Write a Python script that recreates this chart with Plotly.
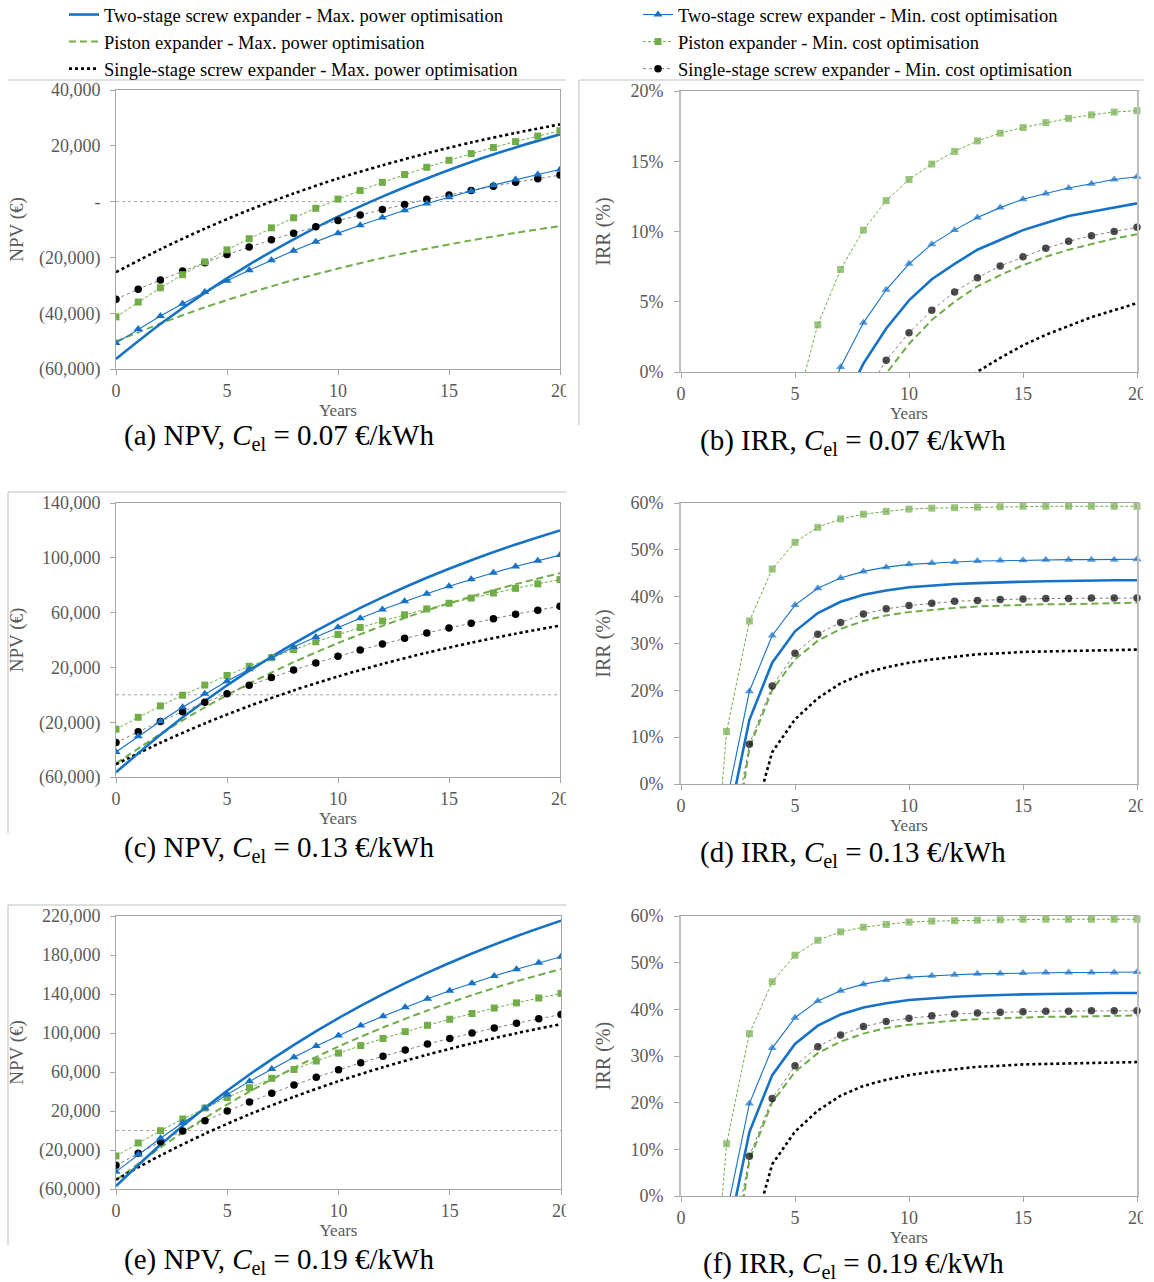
import plotly.graph_objects as go

# ---------------- data ----------------
YEARS = list(range(21))
YEARS_EVEN = list(range(0, 21, 2))

# (a) NPV, Cel = 0.07 EUR/kWh
A_TWO_MP = [-56400, -43900, -32700, -22600, -13500, -5400, 1800, 8300, 14200, 19400, 24100]
A_PIST_MP = [-50100, -43700, -37900, -32800, -28100, -24000, -20200, -16900, -13900, -11200, -8800]
A_SING_MP = [-25300, -17100, -9700, -3000, 2900, 8300, 13000, 17300, 21200, 24600, 27700]
A_TWO_MC = [-50700, -45700, -41000, -36600, -32400, -28400, -24600, -21000, -17600, -14400, -11300,
            -8500, -5700, -3100, -700, 1600, 3800, 5900, 7900, 9700, 11500]
A_PIST_MC = [-41300, -36000, -30900, -26200, -21600, -17300, -13300, -9400, -5800, -2400, 900,
             4000, 6900, 9700, 12300, 14800, 17200, 19400, 21500, 23500, 25400]
A_SING_MC = [-35000, -31400, -28100, -24900, -21900, -19000, -16300, -13700, -11300, -9000, -6800,
             -4800, -2800, -1000, 800, 2400, 4000, 5500, 6900, 8200, 9500]

# (c) NPV, Cel = 0.13 EUR/kWh
C_TWO_MP = [-56600, -29100, -4500, 17600, 37400, 55200, 71100, 85400, 98200, 109700, 120000]
C_PIST_MP = [-50200, -28600, -9200, 8200, 23800, 37800, 50300, 61600, 71600, 80700, 88800]
C_SING_MP = [-50700, -35000, -20900, -8200, 3200, 13400, 22500, 30700, 38000, 44600, 50500]
C_TWO_MC = [-41700, -30200, -19300, -9100, 700, 9900, 18700, 27000, 34800, 42200, 49300,
            55900, 62200, 68200, 73800, 79200, 84300, 89100, 93600, 97900, 102000]
C_PIST_MC = [-25100, -16400, -8100, -300, 7100, 14100, 20800, 27100, 33000, 38700, 44000,
             49100, 53900, 58400, 62700, 66800, 70600, 74300, 77700, 81000, 84100]
C_SING_MC = [-34900, -27000, -19400, -12300, -5500, 800, 6900, 12600, 18100, 23200, 28100,
             32700, 37000, 41200, 45100, 48800, 52300, 55600, 58800, 61800, 64600]

# (e) NPV, Cel = 0.19 EUR/kWh
E_TWO_MP = [-56900, -14600, 23400, 57400, 87900, 115300, 139900, 161900, 181600, 199300, 215200]
E_PIST_MP = [-51100, -17400, 12800, 39900, 64300, 86100, 105600, 123100, 138800, 153000, 165600]
E_SING_MP = [-50400, -25600, -3300, 16600, 34500, 50600, 64900, 77800, 89400, 99800, 109100]
E_TWO_MC = [-42200, -24600, -7900, 7900, 22800, 37000, 50400, 63100, 75200, 86600, 97400,
            107600, 117200, 126400, 135100, 143300, 151100, 158500, 165400, 172100, 178300]
E_PIST_MC = [-26100, -12800, -200, 11800, 23100, 33800, 43900, 53500, 62600, 71300, 79400,
             87100, 94400, 101400, 107900, 114100, 120000, 125600, 130900, 135900, 140600]
E_SING_MC = [-35700, -23300, -11600, -600, 9900, 19900, 29300, 38200, 46600, 54600, 62200,
             69400, 76200, 82600, 88700, 94400, 99900, 105100, 110000, 114600, 119000]

# (b) IRR (%), Cel = 0.07 EUR/kWh
B_TWO_MP = [None, None, None, None, None, None, None, -2.7, 0.6, 3.1, 5.1,
            6.6, 7.7, 8.7, 9.4, 10.1, 10.6, 11.1, 11.4, 11.7, 12.0]
B_PIST_MP = [None, None, None, None, None, None, None, None, -2.5, -0.1, 2.0,
             3.7, 5.0, 6.1, 6.9, 7.6, 8.2, 8.7, 9.1, 9.5, 9.8]
B_SING_MP = [None, None, None, None, None, None, None, None, None, None, None,
             None, -1.2, 0.02, 1.0, 1.9, 2.65, 3.3, 3.9, 4.4, 4.9]
B_TWO_MC = [None, None, None, None, None, None, -4.0, 0.36, 3.5, 5.85, 7.7,
            9.1, 10.1, 11.0, 11.7, 12.3, 12.7, 13.1, 13.4, 13.7, 13.9]
B_PIST_MC = [None, None, None, None, None, -2.75, 3.36, 7.3, 10.1, 12.2, 13.7,
             14.8, 15.7, 16.45, 17.0, 17.4, 17.75, 18.05, 18.3, 18.5, 18.6]
B_SING_MC = [None, None, None, None, None, None, None, None, -1.9, 0.83, 2.8,
             4.4, 5.7, 6.7, 7.55, 8.2, 8.8, 9.3, 9.7, 10.0, 10.3]

# (d) IRR (%), Cel = 0.13 EUR/kWh
D_TWO_MP = [None, None, -9.9, 13.7, 25.9, 32.6, 36.5, 38.9, 40.4, 41.3, 42.0,
            42.4, 42.7, 42.9, 43.1, 43.2, 43.3, 43.4, 43.4, 43.5, 43.5]
D_PIST_MP = [None, None, -24.4, 7.7, 20.1, 26.6, 30.6, 33.1, 34.8, 36.0, 36.7,
             37.2, 37.6, 37.9, 38.1, 38.2, 38.4, 38.4, 38.5, 38.6, 38.7]
D_SING_MP = [None, None, None, -10.6, 6.8, 13.8, 18.3, 21.5, 23.6, 24.9, 25.9,
             26.6, 27.2, 27.7, 27.9, 28.2, 28.3, 28.4, 28.6, 28.7, 28.7]
D_TWO_MC = [None, None, -3.8, 19.8, 31.7, 38.2, 41.8, 44.0, 45.4, 46.3, 46.9,
            47.2, 47.4, 47.6, 47.7, 47.8, 47.9, 47.9, 47.9, 47.9, 48.0]
D_PIST_MC = [None, -48.0, 11.2, 34.8, 45.9, 51.6, 54.8, 56.6, 57.6, 58.2, 58.7,
             58.9, 59.0, 59.1, 59.2, 59.3, 59.3, 59.3, 59.3, 59.3, 59.3]
D_SING_MC = [None, None, -18.1, 8.5, 20.9, 27.9, 32.0, 34.5, 36.3, 37.4, 38.1,
             38.6, 39.0, 39.2, 39.4, 39.5, 39.6, 39.6, 39.7, 39.7, 39.7]

# (f) IRR (%), Cel = 0.19 EUR/kWh
F_TWO_MP = [None, None, -9.9, 13.7, 25.9, 32.6, 36.5, 38.9, 40.4, 41.3, 42.0,
            42.4, 42.7, 42.9, 43.1, 43.2, 43.3, 43.4, 43.4, 43.5, 43.5]
F_PIST_MP = [None, None, -24.4, 7.7, 20.1, 26.6, 30.6, 33.1, 34.8, 36.0, 36.7,
             37.2, 37.6, 37.9, 38.1, 38.2, 38.4, 38.4, 38.5, 38.6, 38.7]
F_SING_MP = [None, None, None, -10.6, 6.8, 13.8, 18.3, 21.5, 23.6, 24.9, 25.9,
             26.6, 27.2, 27.7, 27.9, 28.2, 28.3, 28.4, 28.6, 28.7, 28.7]
F_TWO_MC = [None, None, -3.8, 19.8, 31.7, 38.2, 41.8, 44.0, 45.4, 46.3, 46.9,
            47.2, 47.4, 47.6, 47.7, 47.8, 47.9, 47.9, 47.9, 47.9, 48.0]
F_PIST_MC = [None, -48.0, 11.2, 34.8, 45.9, 51.6, 54.8, 56.6, 57.6, 58.2, 58.7,
             58.9, 59.0, 59.1, 59.2, 59.3, 59.3, 59.3, 59.3, 59.3, 59.3]
F_SING_MC = [None, None, -18.1, 8.5, 20.9, 27.9, 32.0, 34.5, 36.3, 37.4, 38.1,
             38.6, 39.0, 39.2, 39.4, 39.5, 39.6, 39.6, 39.7, 39.7, 39.7]

SERIES_NAMES = {
    "two_mp": "Two-stage screw expander - Max. power optimisation",
    "pist_mp": "Piston expander - Max. power optimisation",
    "sing_mp": "Single-stage screw expander - Max. power optimisation",
    "two_mc": "Two-stage screw expander - Min. cost optimisation",
    "pist_mc": "Piston expander - Min. cost optimisation",
    "sing_mc": "Single-stage screw expander - Min. cost optimisation",
}

NPV_A_TICKS = [-60000, -40000, -20000, 0, 20000, 40000]
NPV_A_LABELS = ["(60,000)", "(40,000)", "(20,000)", "-", "20,000", "40,000"]
NPV_C_TICKS = [-60000, -20000, 20000, 60000, 100000, 140000]
NPV_C_LABELS = ["(60,000)", "(20,000)", "20,000", "60,000", "100,000", "140,000"]
NPV_E_TICKS = [-60000, -20000, 20000, 60000, 100000, 140000, 180000, 220000]
NPV_E_LABELS = ["(60,000)", "(20,000)", "20,000", "60,000", "100,000", "140,000", "180,000", "220,000"]
IRR_B_TICKS = [0, 5, 10, 15, 20]
IRR_B_LABELS = ["0%", "5%", "10%", "15%", "20%"]
IRR_DF_TICKS = [0, 10, 20, 30, 40, 50, 60]
IRR_DF_LABELS = ["0%", "10%", "20%", "30%", "40%", "50%", "60%"]
YEAR_TICKS = [0, 5, 10, 15, 20]

CAPTIONS = [
    "(a) NPV, <i>C</i><sub>el</sub> = 0.07 €/kWh",
    "(b) IRR, <i>C</i><sub>el</sub> = 0.07 €/kWh",
    "(c) NPV, <i>C</i><sub>el</sub> = 0.13 €/kWh",
    "(d) IRR, <i>C</i><sub>el</sub> = 0.13 €/kWh",
    "(e) NPV, <i>C</i><sub>el</sub> = 0.19 €/kWh",
    "(f) IRR, <i>C</i><sub>el</sub> = 0.19 €/kWh",
]

# ---------------- styling ----------------
W, H = 1154, 1282
FONT = "Liberation Serif, Times New Roman, serif"
BLUE = "#1572C6"
GREEN = "#70AD47"
BLACK = "#000000"
TICK_GRAY = "#595959"
AXIS_GRAY = "#A6A6A6"


def X(p):
    return p / W


def Y(p):
    return 1 - p / H


STYLE = {
    "two_mp": dict(mode="lines", line=dict(color=BLUE, width=2.6), legend="legend"),
    "pist_mp": dict(mode="lines", line=dict(color=GREEN, width=2, dash="7px,4px"), legend="legend"),
    "sing_mp": dict(mode="lines", line=dict(color=BLACK, width=2.6, dash="dot"), legend="legend"),
    "two_mc": dict(mode="lines+markers", line=dict(color=BLUE, width=1.1),
                   marker=dict(symbol="triangle-up", color=BLUE), legend="legend2"),
    "pist_mc": dict(mode="lines+markers", line=dict(color=GREEN, width=1, dash="3px,2px"),
                    marker=dict(symbol="square", color=GREEN), legend="legend2"),
    "sing_mc": dict(mode="lines+markers", line=dict(color="#7F7F7F", width=1, dash="dot"),
                    marker=dict(symbol="circle", color=BLACK), legend="legend2"),
}
MSIZE = {"two_mc": 8, "pist_mc": 7, "sing_mc": 7.5}

# panel domains in pixels: (left, right, top, bottom)
DOMAINS = [
    (116, 560, 90, 369),
    (681, 1137, 91, 372),
    (116, 560, 503, 777),
    (681, 1137, 503, 784),
    (116, 561, 916, 1189),
    (681, 1137, 916, 1196),
]

PANEL_DATA = [
    dict(two_mp=(YEARS_EVEN, A_TWO_MP), pist_mp=(YEARS_EVEN, A_PIST_MP), sing_mp=(YEARS_EVEN, A_SING_MP),
         two_mc=(YEARS, A_TWO_MC), pist_mc=(YEARS, A_PIST_MC), sing_mc=(YEARS, A_SING_MC)),
    dict(two_mp=(YEARS, B_TWO_MP), pist_mp=(YEARS, B_PIST_MP), sing_mp=(YEARS, B_SING_MP),
         two_mc=(YEARS, B_TWO_MC), pist_mc=(YEARS, B_PIST_MC), sing_mc=(YEARS, B_SING_MC)),
    dict(two_mp=(YEARS_EVEN, C_TWO_MP), pist_mp=(YEARS_EVEN, C_PIST_MP), sing_mp=(YEARS_EVEN, C_SING_MP),
         two_mc=(YEARS, C_TWO_MC), pist_mc=(YEARS, C_PIST_MC), sing_mc=(YEARS, C_SING_MC)),
    dict(two_mp=(YEARS, D_TWO_MP), pist_mp=(YEARS, D_PIST_MP), sing_mp=(YEARS, D_SING_MP),
         two_mc=(YEARS, D_TWO_MC), pist_mc=(YEARS, D_PIST_MC), sing_mc=(YEARS, D_SING_MC)),
    dict(two_mp=(YEARS_EVEN, E_TWO_MP), pist_mp=(YEARS_EVEN, E_PIST_MP), sing_mp=(YEARS_EVEN, E_SING_MP),
         two_mc=(YEARS, E_TWO_MC), pist_mc=(YEARS, E_PIST_MC), sing_mc=(YEARS, E_SING_MC)),
    dict(two_mp=(YEARS, F_TWO_MP), pist_mp=(YEARS, F_PIST_MP), sing_mp=(YEARS, F_SING_MP),
         two_mc=(YEARS, F_TWO_MC), pist_mc=(YEARS, F_PIST_MC), sing_mc=(YEARS, F_SING_MC)),
]
IS_NPV = [True, False, True, False, True, False]

fig = go.Figure()

DRAW_ORDER = ["pist_mp", "sing_mp", "two_mp", "sing_mc", "pist_mc", "two_mc"]
LEGEND_ORDER = ["two_mp", "pist_mp", "sing_mp", "two_mc", "pist_mc", "sing_mc"]

for i, pdata in enumerate(PANEL_DATA):
    n = i + 1
    xa = "x" if n == 1 else f"x{n}"
    ya = "y" if n == 1 else f"y{n}"
    for key in DRAW_ORDER:
        xs, ys = pdata[key]
        st = STYLE[key]
        kw = dict(x=xs, y=ys, name=SERIES_NAMES[key], mode=st["mode"], line=dict(st["line"]),
                  xaxis=xa, yaxis=ya, legend=st["legend"], legendgroup=key,
                  showlegend=(n == 1), legendrank=LEGEND_ORDER.index(key) + 1,
                  hoverinfo="skip", connectgaps=False)
        if IS_NPV[i] and key.endswith("_mp"):
            kw["line"]["shape"] = "spline"
            kw["line"]["smoothing"] = 0.8
        if "marker" in st:
            if IS_NPV[i]:
                kw["marker"] = dict(st["marker"], size=MSIZE[key], line=dict(width=0))
            else:
                # IRR points below 0 % are outside the chart: hide their markers
                sizes = [0 if (v is None or v < 0) else MSIZE[key] for v in ys]
                kw["marker"] = dict(st["marker"], size=sizes, line=dict(width=0))
                kw["cliponaxis"] = False
        fig.add_trace(go.Scatter(**kw))

axis_common = dict(showgrid=False, zeroline=False, showline=True, linecolor=AXIS_GRAY, linewidth=1,
                   mirror=True, ticks="outside", ticklen=5, tickcolor=AXIS_GRAY,
                   tickfont=dict(family=FONT, size=18, color=TICK_GRAY), fixedrange=True,
                   automargin=False)

layout = dict(
    width=W, height=H, margin=dict(l=0, r=0, t=0, b=0, pad=0, autoexpand=False),
    paper_bgcolor="white", plot_bgcolor="white",
    font=dict(family=FONT, color=BLACK),
    showlegend=True,
)

yranges = [(-60000, 40000), (0, 20), (-60000, 140000), (0, 60), (-60000, 220000), (0, 60)]
yticks = [(NPV_A_TICKS, NPV_A_LABELS, True), (IRR_B_TICKS, IRR_B_LABELS, False),
          (NPV_C_TICKS, NPV_C_LABELS, True), (IRR_DF_TICKS, IRR_DF_LABELS, False),
          (NPV_E_TICKS, NPV_E_LABELS, True), (IRR_DF_TICKS, IRR_DF_LABELS, False)]

for i, (l, r, t, b) in enumerate(DOMAINS):
    n = i + 1
    xk = "xaxis" if n == 1 else f"xaxis{n}"
    yk = "yaxis" if n == 1 else f"yaxis{n}"
    ya = "y" if n == 1 else f"y{n}"
    xa = "x" if n == 1 else f"x{n}"
    layout[xk] = dict(axis_common, domain=[X(l), X(r)], anchor=ya, range=[0, 20],
                      tickmode="array", tickvals=YEAR_TICKS, ticklabelstandoff=0,
                      title=dict(text="Years", font=dict(family=FONT, size=17, color=TICK_GRAY), standoff=0))
    tv, tt, npv = yticks[i]
    yd = dict(axis_common, domain=[Y(b), Y(t)], anchor=xa, range=list(yranges[i]),
              tickmode="array", tickvals=tv, ticktext=tt, ticklabelstandoff=6)
    if npv:
        yd["title"] = dict(text="NPV (€)", font=dict(family=FONT, size=19, color=TICK_GRAY), standoff=10)
    else:
        yd["ticklabelstandoff"] = 7
        yd["title"] = dict(text="IRR (%)", font=dict(family=FONT, size=20, color=TICK_GRAY), standoff=14)
        yd["linecolor"] = "#BFBFBF"
        yd["linewidth"] = 2
    layout[yk] = yd

fig.update_layout(**layout)

# legends (two columns)
fig.update_layout(
    legend=dict(x=X(64), y=Y(-4), xanchor="left", yanchor="top", bgcolor="rgba(0,0,0,0)",
                font=dict(family=FONT, size=18.5, color=BLACK), tracegroupgap=1, itemwidth=30,
                traceorder="normal"),
    legend2=dict(x=X(638), y=Y(-4), xanchor="left", yanchor="top", bgcolor="rgba(0,0,0,0)",
                 font=dict(family=FONT, size=18.5, color=BLACK), tracegroupgap=1, itemwidth=30,
                 traceorder="normal"),
)

shapes = []
# zero reference lines in NPV panels
for n in (1, 3, 5):
    xa = "x" if n == 1 else f"x{n}"
    ya = "y" if n == 1 else f"y{n}"
    shapes.append(dict(type="line", xref=xa, yref=ya, x0=0, x1=20, y0=0, y1=0,
                       line=dict(color="#A6A6A6", width=1, dash="dot"), layer="below"))

# clip the right-most tick labels like the cropped original
shapes.append(dict(type="rect", xref="paper", yref="paper", x0=X(566), x1=X(578.5), y0=0, y1=1,
                   fillcolor="white", line=dict(width=0), layer="above"))
shapes.append(dict(type="rect", xref="paper", yref="paper", x0=X(1143), x1=1, y0=0, y1=1,
                   fillcolor="white", line=dict(width=0), layer="above"))

# chart-area frame fragments
FRAME = "#BFBFBF"
for (x0, y0, x1, y1) in [(8, 80, 566, 80), (580, 80, 1144, 80), (579, 80, 579, 425),
                         (8, 492, 566, 492), (8, 492, 8, 833),
                         (8, 905, 566, 905), (8, 905, 8, 1245)]:
    shapes.append(dict(type="line", xref="paper", yref="paper", x0=X(x0), x1=X(x1), y0=Y(y0), y1=Y(y1),
                       line=dict(color=FRAME, width=1), layer="above"))
fig.update_layout(shapes=shapes)

# captions
CAP_POS = [(279, 437), (853, 442), (279, 849), (853, 854), (279, 1261), (853, 1265)]
annotations = []
for text, (cx, cy) in zip(CAPTIONS, CAP_POS):
    annotations.append(dict(text=text, xref="paper", yref="paper", x=X(cx), y=Y(cy),
                            xanchor="center", yanchor="middle", showarrow=False,
                            font=dict(family=FONT, size=29, color=BLACK)))
fig.update_layout(annotations=annotations)

fig.write_html("out.html", config={"displayModeBar": False},
               post_script="document.body.style.margin='0';document.body.style.overflow='hidden';")
